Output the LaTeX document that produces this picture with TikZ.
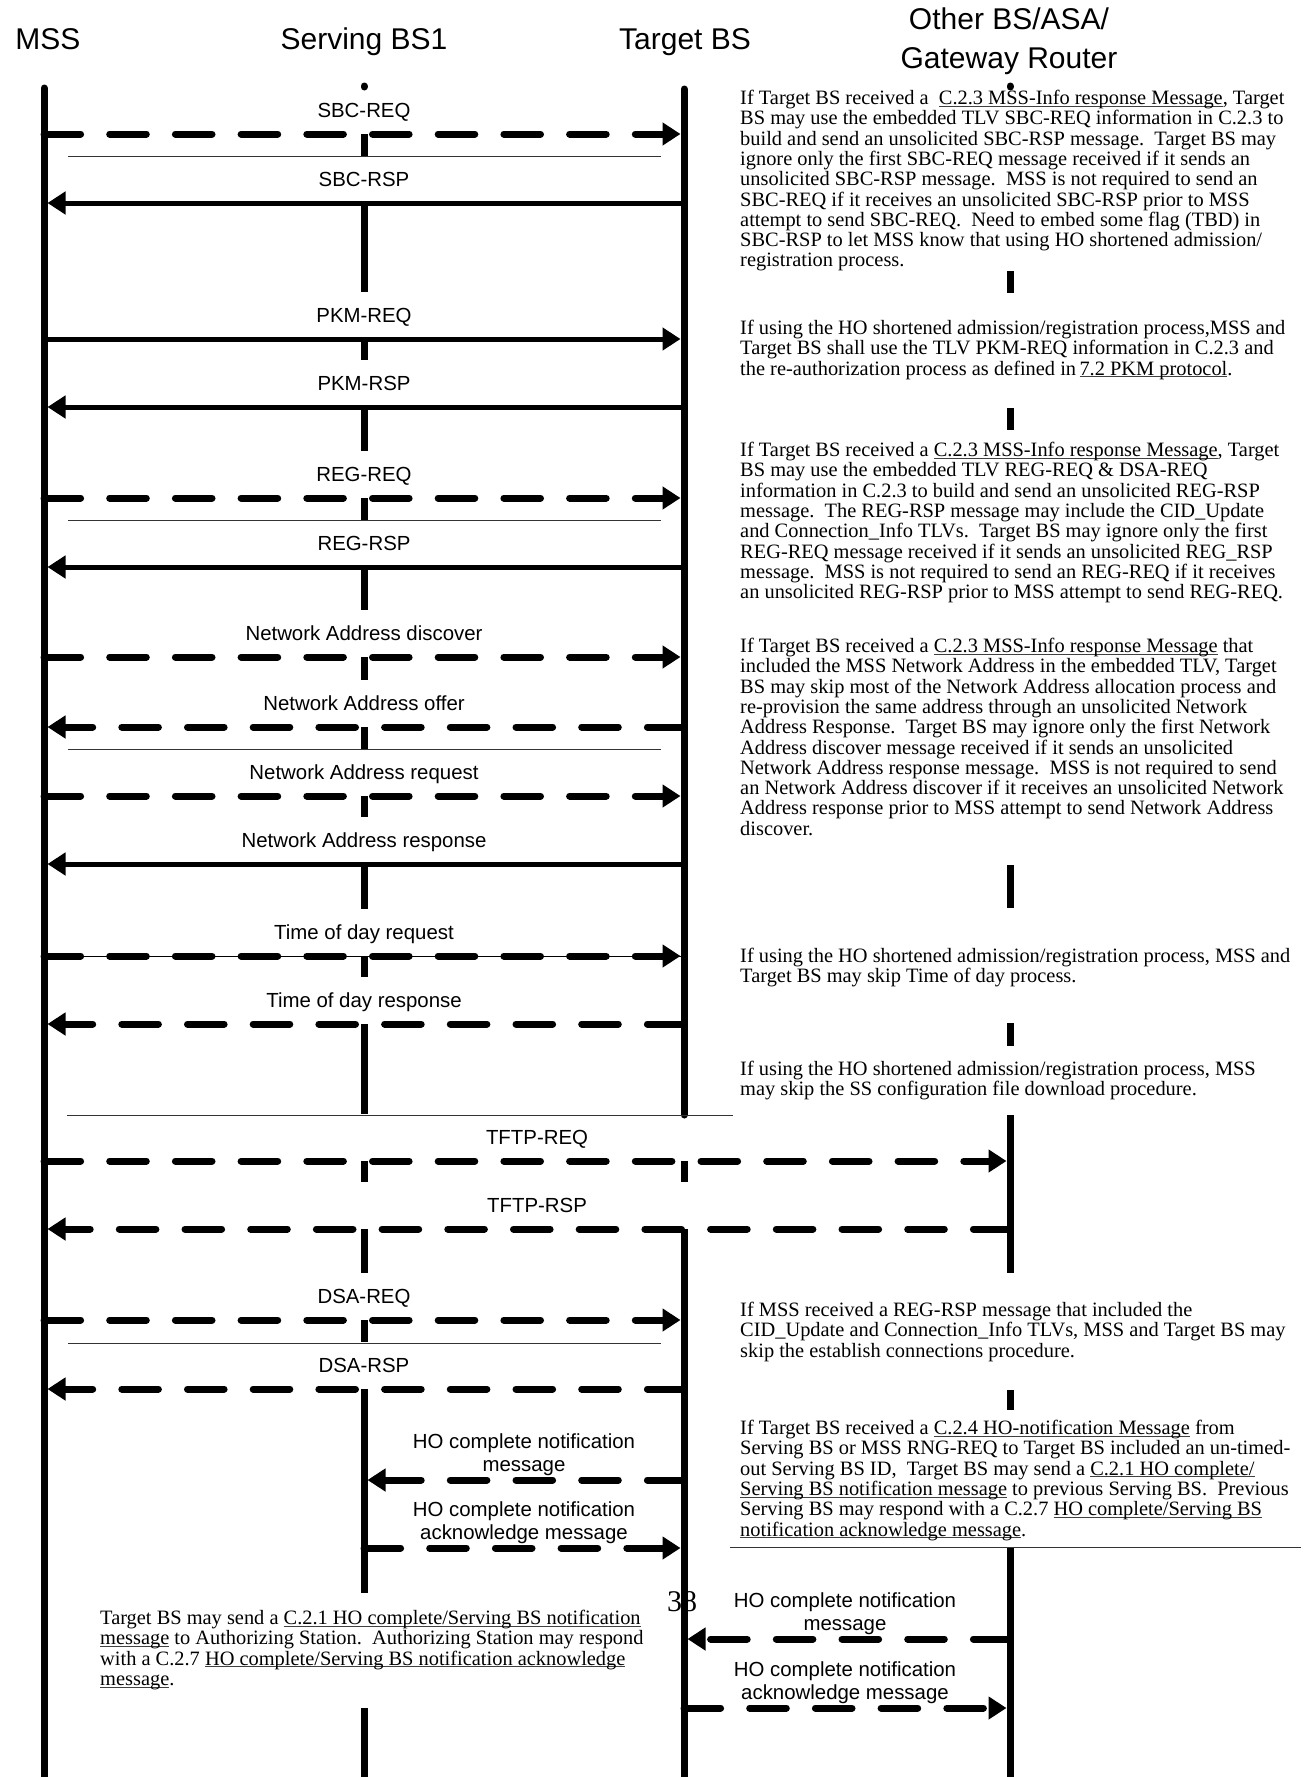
\documentclass[tikz,border=0pt]{standalone}
\usepackage{fontspec}
\setmainfont{Liberation Serif}
\newfontfamily\arialfont{Liberation Sans}
\usetikzlibrary{arrows.meta}

\newsavebox\undlbox
\newcommand{\undl}[1]{\sbox\undlbox{#1}\rlap{\color{black!75}\rule[-2.2pt]{\wd\undlbox}{0.9pt}}\usebox\undlbox}

\tikzset{
  life/.style={line width=7pt},
  smsg/.style={line width=5pt, shorten >=3.5pt, -{Triangle[length=18pt,width=22pt]}},
  dmsg/.style={line width=7pt, line cap=round, dash pattern=on 36.6pt off 29.1pt,
    shorten >=3.5pt, -{Triangle[length=18pt,width=22pt]}},
  sep/.style={line width=1pt, black!80},
  head/.style={font=\arialfont\fontsize{30}{39}\selectfont, inner sep=0pt, align=center},
  lbl/.style={font=\arialfont\fontsize{20.4}{23}\selectfont, inner sep=0pt, align=center},
  note/.style={font=\fontsize{20.4}{20.3}\selectfont, inner sep=0pt, align=left, anchor=north west}
}

\begin{document}
\begin{tikzpicture}[x=1pt,y=-1pt]
  \path[use as bounding box, fill=white] (0,0) rectangle (1306,1777);

  % Lifelines
  \coordinate (mss) at (44,0);
  \coordinate (sbs) at (364,0);
  \coordinate (tbs) at (684,0);
  \coordinate (oth) at (1010,0);

  % Headers
  \node[head, anchor=base] (hmss) at (48,49) {MSS};
  \node[head, anchor=base] (hsbs) at (364,49) {Serving BS1};
  \node[head, anchor=base] (htbs) at (685,49) {Target BS};
  \node[head, anchor=north] (hoth) at (1009,8) {Other BS/ASA/\\Gateway Router};

  % Messages
  \draw[line width=1pt] (mss |- 0,956) -- (tbs |- 0,956);
  \foreach \y/\a/\b in {203/tbs/mss, 339/mss/tbs, 407/tbs/mss, 567/tbs/mss, 864/tbs/mss}
    \draw[smsg] (\a |- 0,\y) -- (\b |- 0,\y);
  \foreach \y/\a/\b in {134/mss/tbs, 498/mss/tbs, 657/mss/tbs, 727/tbs/mss, 796/mss/tbs,
      956/mss/tbs, 1024/tbs/mss, 1161/mss/oth, 1229/oth/mss, 1320/mss/tbs, 1389/tbs/mss,
      1480/tbs/sbs, 1548/sbs/tbs, 1639/oth/tbs, 1708/tbs/oth}
    \draw[dmsg] (\a |- 0,\y) -- (\b |- 0,\y);

  % Lifeline segments
  \draw[life, line cap=round] (mss |- 0,88) -- (mss |- 0,1777);
  \draw[life, line cap=round] (tbs |- 0,89) -- (tbs |- 0,1115);
  \foreach \a/\b in {1161/1182, 1229/1777}
    \draw[life] (tbs |- 0,\a) -- (tbs |- 0,\b);
  \foreach \a/\b in {134/156, 203/292, 339/360, 407/451, 498/520, 567/610, 657/680, 727/749,
      796/817, 864/909, 956/977, 1024/1114, 1161/1182, 1229/1273, 1320/1342, 1389/1593, 1708/1777}
    \draw[life] (sbs |- 0,\a) -- (sbs |- 0,\b);
  \foreach \a/\b in {271/293, 408/430, 865/908, 1023/1046, 1115/1273, 1390/1410, 1547/1777}
    \draw[life] (oth |- 0,\a) -- (oth |- 0,\b);
  \foreach \l in {sbs, oth}
    \draw[life, line cap=round] (\l |- 0,86) -- (\l |- 0,87);

  % Separators
  \foreach \a/\b/\y in {68/661/156, 68/661/520, 68/661/749, 67/733/1115, 68/661/1343, 730/1301/1547}
    \draw[sep] (\a,\y) -- (\b,\y);

  % Message labels
  \node[lbl, anchor=base] (sbcreq) at (364,117) {SBC-REQ};
  \node[lbl, anchor=base] (sbcrsp) at (364,186) {SBC-RSP};
  \node[lbl, anchor=base] (pkmreq) at (364,322) {PKM-REQ};
  \node[lbl, anchor=base] (pkmrsp) at (364,390) {PKM-RSP};
  \node[lbl, anchor=base] (regreq) at (364,481) {REG-REQ};
  \node[lbl, anchor=base] (regrsp) at (364,550) {REG-RSP};
  \node[lbl, anchor=base] (nadisc) at (364,640) {Network Address discover};
  \node[lbl, anchor=base] (naoffer) at (364,710) {Network Address offer};
  \node[lbl, anchor=base] (nareq) at (364,779) {Network Address request};
  \node[lbl, anchor=base] (narsp) at (364,847) {Network Address response};
  \node[lbl, anchor=base] (todreq) at (364,939) {Time of day request};
  \node[lbl, anchor=base] (todrsp) at (364,1007) {Time of day response};
  \node[lbl, anchor=base] (tftpreq) at (537,1144) {TFTP-REQ};
  \node[lbl, anchor=base] (tftprsp) at (537,1212) {TFTP-RSP};
  \node[lbl, anchor=base] (dsareq) at (364,1303) {DSA-REQ};
  \node[lbl, anchor=base] (dsarsp) at (364,1372) {DSA-RSP};
  \node[lbl] (honote) at (524,1455) {HO complete notification\\message};
  \node[lbl] (hoack) at (524,1523) {HO complete notification\\acknowledge message};
  \node[lbl] (asanote) at (845,1614) {HO complete notification\\message};
  \node[lbl] (asaack) at (845,1683) {HO complete notification\\acknowledge message};

  % Notes
  \node[note] (n1) at (740,90) {If Target BS received a\ \ \undl{C.2.3 MSS-Info response Message}, Target\\
    BS may use the embedded TLV SBC-REQ information in C.2.3 to\\
    build and send an unsolicited SBC-RSP message.\ \ Target BS may\\
    ignore only the first SBC-REQ message received if it sends an\\
    unsolicited SBC-RSP message.\ \ MSS is not required to send an\\
    SBC-REQ if it receives an unsolicited SBC-RSP prior to MSS\\
    attempt to send SBC-REQ.\ \ Need to embed some flag (TBD) in\\
    SBC-RSP to let MSS know that using HO shortened admission/\\
    registration process.};
  \node[note] (n2) at (740,320) {If using the HO shortened admission/registration process,MSS and\\
    Target BS shall use the TLV PKM-REQ information in C.2.3 and\\
    the re-authorization process as defined in\,\undl{7.2 PKM protocol}.};
  \node[note] (n3) at (740,442) {If Target BS received a \undl{C.2.3 MSS-Info response Message}, Target\\
    BS may use the embedded TLV REG-REQ \& DSA-REQ\\
    information in C.2.3 to build and send an unsolicited REG-RSP\\
    message.\ \ The REG-RSP message may include the CID\_Update\\
    and Connection\_Info TLVs.\ \ Target BS may ignore only the first\\
    REG-REQ message received if it sends an unsolicited REG\_RSP\\
    message.\ \ MSS is not required to send an REG-REQ if it receives\\
    an unsolicited REG-RSP prior to MSS attempt to send REG-REQ.};
  \node[note] (n4) at (740,638) {If Target BS received a \undl{C.2.3 MSS-Info response Message} that\\
    included the MSS Network Address in the embedded TLV, Target\\
    BS may skip most of the Network Address allocation process and\\
    re-provision the same address through an unsolicited Network\\
    Address Response.\ \ Target BS may ignore only the first Network\\
    Address discover message received if it sends an unsolicited\\
    Network Address response message.\ \ MSS is not required to send\\
    an Network Address discover if it receives an unsolicited Network\\
    Address response prior to MSS attempt to send Network Address\\
    discover.};
  \node[note] (n5) at (740,948) {If using the HO shortened admission/registration process, MSS and\\
    Target BS may skip Time of day process.};
  \node[note] (n6) at (740,1061) {If using the HO shortened admission/registration process, MSS\\
    may skip the SS configuration file download procedure.};
  \node[note] (n7) at (740,1302) {If MSS received a REG-RSP message that included the\\
    CID\_Update and Connection\_Info TLVs, MSS and Target BS may\\
    skip the establish connections procedure.};
  \node[note] (n8) at (740,1420) {If Target BS received a \undl{C.2.4 HO-notification Message} from\\
    Serving BS or MSS RNG-REQ to Target BS included an un-timed-\\
    out Serving BS ID,\ \ Target BS may send a \undl{C.2.1 HO complete/}\\
    \undl{Serving BS notification message} to previous Serving BS.\ \ Previous\\
    Serving BS may respond with a C.2.7 \undl{HO complete/Serving BS}\\
    \undl{notification acknowledge message}.};
  \node[note] (n9) at (100,1610) {Target BS may send a \undl{C.2.1 HO complete/Serving BS notification}\\
    \undl{message} to Authorizing Station.\ \ Authorizing Station may respond\\
    with a C.2.7 \undl{HO complete/Serving BS notification acknowledge}\\
    \undl{message}.};

  % Page number
  \node[font=\fontsize{30}{30}\selectfont, inner sep=0pt, anchor=base] (pg) at (682,1611) {38};
\end{tikzpicture}
\end{document}
